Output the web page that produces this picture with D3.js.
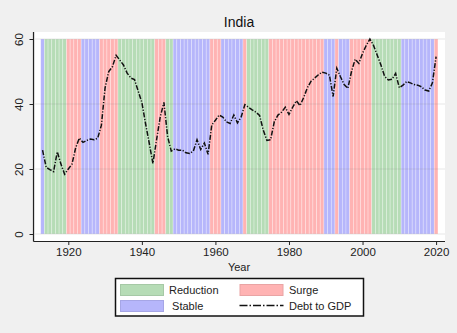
<!DOCTYPE html>
<html><head><meta charset="utf-8">
<script src="https://cdn.jsdelivr.net/npm/d3@7"></script>
<style>
body{margin:0;background:#f0f0f0;}
svg{display:block;font-family:Arial,"Liberation Sans",sans-serif;}
</style></head>
<body><svg id="c" width="457" height="333"></svg>
<script>
const years = [1913,1914,1915,1916,1917,1918,1919,1920,1921,1922,1923,1924,1925,1926,1927,1928,1929,1930,1931,1932,1933,1934,1935,1936,1937,1938,1939,1940,1941,1942,1943,1944,1945,1946,1947,1948,1949,1950,1951,1952,1953,1954,1955,1956,1957,1958,1959,1960,1961,1962,1963,1964,1965,1966,1967,1968,1969,1970,1971,1972,1973,1974,1975,1976,1977,1978,1979,1980,1981,1982,1983,1984,1985,1986,1987,1988,1989,1990,1991,1992,1993,1994,1995,1996,1997,1998,1999,2000,2001,2002,2003,2004,2005,2006,2007,2008,2009,2010,2011,2012,2013,2014,2015,2016,2017,2018,2019,2020];
const debtToGDP = [25.8,20.5,19.8,19.2,25.3,21.5,18.4,20.0,21.5,26.5,29.5,28.2,28.8,29.2,29.0,29.5,33.5,45.0,50.0,51.5,55.0,53.5,52.0,49.5,48.0,47.5,44.0,40.5,34.0,28.0,21.7,29.0,36.0,40.5,30.0,25.5,26.2,25.8,25.8,25.0,24.8,25.5,29.0,26.0,28.0,24.5,33.5,35.0,36.6,36.0,34.5,34.0,36.6,34.2,36.0,39.8,39.0,38.2,37.5,36.5,32.0,28.8,29.0,34.5,36.6,37.5,39.0,36.8,39.0,41.0,39.5,42.0,45.0,47.0,48.0,49.0,49.8,49.5,48.9,42.3,51.0,48.4,46.0,44.8,50.0,53.8,52.5,55.6,58.0,60.0,58.0,55.0,52.0,48.5,47.4,47.6,49.4,45.0,45.8,46.9,46.5,46.0,45.8,45.3,44.3,44.0,46.5,54.6];
// regimes as periods
const regimeStart = [1913,1914,1920,1924,1929,1934,1944,1947,1949,1959,1962,1968,1969,1975,1990,1993,1994,1997,2003,2011,2020];
const regimeEnd   = [1913,1919,1923,1928,1933,1943,1946,1948,1958,1961,1967,1968,1974,1989,1992,1993,1996,2002,2010,2019,2020];
const regimeType  = ["Stable","Reduction","Surge","Stable","Surge","Reduction","Surge","Reduction","Stable","Surge","Stable","Surge","Reduction","Surge","Stable","Surge","Stable","Surge","Reduction","Stable","Surge"];
const xTicks = [1920,1940,1960,1980,2000,2020];
const yTicks = [0,20,40,60];
const legendLabels = ["Reduction","Surge","Stable","Debt to GDP"];
const title = "India";
const xTitle = "Year";

const colors = {Reduction:"#b6dcb6", Stable:"#b6b6fb", Surge:"#ffb3b3"};
const svg = d3.select("#c");

// plot region
svg.append("rect").attr("x",35).attr("y",32).attr("width",410).attr("height",209).attr("fill","#fff");

const x = d3.scaleLinear().domain([1920,2020]).range([68.3,436.1]);
const y = d3.scaleLinear().domain([0,60]).range([234,39]);
const bw = x(1921)-x(1920);

// per-year regime bars
const barData = [];
regimeStart.forEach((s,i)=>{
  years.filter(yr=>yr>=s && yr<=regimeEnd[i]).forEach(yr=>barData.push({yr,type:regimeType[i]}));
});
svg.append("g").selectAll("rect").data(barData).join("rect")
  .attr("x",d=>x(d.yr)-bw/2).attr("width",bw)
  .attr("y",y(60)).attr("height",y(0)-y(60))
  .attr("fill",d=>colors[d.type])
  .attr("stroke","rgba(255,255,255,0.4)").attr("stroke-width",0.7);

// gridlines
svg.append("g").selectAll("line").data(yTicks).join("line")
  .attr("x1",35).attr("x2",445).attr("y1",d=>y(d)).attr("y2",d=>y(d))
  .attr("stroke","rgba(120,120,120,0.18)").attr("stroke-width",1);

// line
const line = d3.line().x((d,i)=>x(years[i])).y(d=>y(d));
svg.append("path").datum(debtToGDP).attr("d",line)
  .attr("fill","none").attr("stroke","#111").attr("stroke-width",1.5)
  .attr("stroke-dasharray","5,1.6,1.2,1.6");

// axes
const xAxis = d3.axisBottom(x).tickValues(xTicks).tickFormat(d3.format("d")).tickSize(4).tickPadding(3);
const gx = svg.append("g").attr("transform","translate(0,241)").call(xAxis);
gx.select(".domain").attr("d","M33.5,0.5H445").attr("stroke","#222").attr("stroke-width",1.2);
gx.selectAll("text").attr("font-size",11.5).attr("fill","#222").attr("font-family","Arial,'Liberation Sans',sans-serif");
gx.selectAll(".tick line").attr("stroke","#222");

const yAxis = d3.axisLeft(y).tickValues(yTicks).tickSize(4).tickPadding(3);
const gy = svg.append("g").attr("transform","translate(33.5,0)").call(yAxis);
gy.select(".domain").attr("d","M0,32V241.5").attr("stroke","#222").attr("stroke-width",1.2);
gy.selectAll(".tick line").attr("stroke","#222");
gy.selectAll("text").attr("font-size",11.5).attr("fill","#222").attr("font-family","Arial,'Liberation Sans',sans-serif")
  .attr("transform","rotate(-90)").attr("x",0).attr("y",-11).attr("dy","0").attr("text-anchor","middle");

// titles
svg.append("text").attr("x",239).attr("y",26.5).attr("text-anchor","middle").attr("font-size",14).attr("fill","#111").text(title);
svg.append("text").attr("x",239).attr("y",271).attr("text-anchor","middle").attr("font-size",11).attr("fill","#222").text(xTitle);

// legend
const lg = svg.append("g");
lg.append("rect").attr("x",115.5).attr("y",278.5).attr("width",248).attr("height",37.5).attr("fill","#fff").attr("stroke","#111").attr("stroke-width",1.5);
const entries = [
  {label:legendLabels[0], type:"Reduction", lx:120, ly:284, tx:169},
  {label:legendLabels[1], type:"Surge", lx:239.5, ly:284, tx:289},
  {label:" "+legendLabels[2], type:"Stable", lx:120, ly:300, tx:169},
  {label:legendLabels[3], type:"line", lx:239.5, ly:300, tx:289}
];
entries.forEach(e=>{
  if(e.type==="line"){
    lg.append("line").attr("x1",e.lx).attr("x2",e.lx+44).attr("y1",e.ly+5.5).attr("y2",e.ly+5.5)
      .attr("stroke","#111").attr("stroke-width",1.3).attr("stroke-dasharray","8,2,1.5,2");
  } else {
    lg.append("rect").attr("x",e.lx+0.5).attr("y",e.ly+0.5).attr("width",43).attr("height",11)
      .attr("fill",colors[e.type]).attr("stroke",d3.color(colors[e.type]).darker(0.25)).attr("stroke-width",1);
  }
  lg.append("text").attr("x",e.tx).attr("y",e.ly+10).attr("font-size",11).attr("fill","#222")
    .attr("xml:space","preserve").style("white-space","pre").text(e.label);
});
</script></body></html>
